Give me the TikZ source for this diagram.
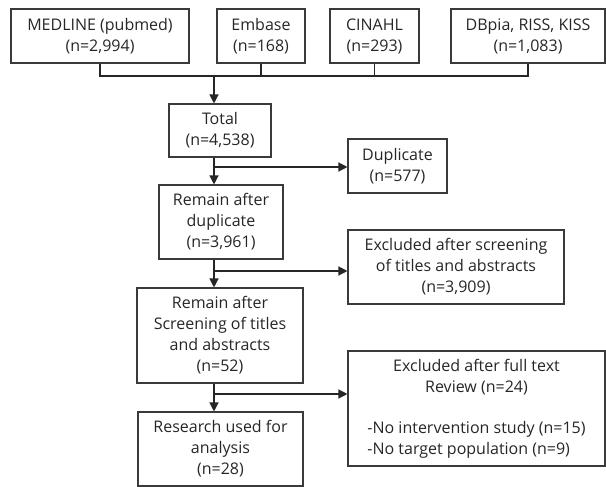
\documentclass[tikz,border=0pt]{standalone}
\usepackage{fontspec}
\setmainfont{Open Sans}
\usepackage{calc}
\usetikzlibrary{arrows.meta}
\definecolor{boxline}{HTML}{3A3A3A}
\definecolor{txt}{HTML}{262626}
\begin{document}
\begin{tikzpicture}[x=1pt,y=-1pt,
 box/.style={draw=boxline, line width=1.1pt, inner sep=0pt, align=center, text=txt, font=\fontsize{16}{21}\selectfont},
 conn/.style={draw=txt, line width=1.3pt},
 arr/.style={conn, -{Triangle[length=9pt,width=9pt]}}]
\useasboundingbox (0,0) rectangle (606,487);
\node[box, minimum width=178pt, minimum height=54pt] (med) at (100,36) {MEDLINE (pubmed)\\(n=2,994)};
\node[box, minimum width=88pt, minimum height=54pt] (emb) at (261,36) {Embase\\(n=168)};
\node[box, minimum width=89pt, minimum height=54pt] (cin) at (374.5,36) {CINAHL\\(n=293)};
\node[box, minimum width=154pt, minimum height=54pt] (dbp) at (528,36) {DBpia, RISS, KISS\\(n=1,083)};
\node[box, minimum width=102pt, minimum height=53pt] (tot) at (220,130.5) {Total\\(n=4,538)};
\node[box, minimum width=99pt, minimum height=54pt] (dup) at (397.5,166) {Duplicate\\(n=577)};
\node[box, minimum width=124pt, minimum height=74pt] (rem1) at (221,222) {Remain after\\duplicate\\(n=3,961)};
\node[box, minimum width=216pt, minimum height=74pt] (exc1) at (456,267) {Excluded after screening\\of titles and abstracts\\(n=3,909)};
\node[box, minimum width=166pt, minimum height=95pt] (rem2) at (220,335.5) {Remain after\\Screening of titles\\and abstracts\\(n=52)};
\node[box, minimum width=257pt, minimum height=115pt] (exc2) at (476.5,408.5) {Excluded after full text\\Review (n=24)\\[20pt]-No intervention study (n=15)\\\makebox[\widthof{-No intervention study (n=15)}][l]{-No target population (n=9)}};
\node[box, minimum width=165pt, minimum height=74pt] (res) at (220.5,449) {Research used for\\analysis\\(n=28)};
\coordinate (ml) at (0,76);
\coordinate (sp) at (214,76);
\draw[conn] (med.south) -- (med.south |- ml) -- (dbp.south |- ml) -- (dbp.south);
\draw[conn] (emb.south) -- (emb.south |- ml);
\draw[conn] (cin.south) -- (cin.south |- ml);
\draw[arr] (sp) -- (sp |- tot.north);
\draw[arr] (sp |- tot.south) -- (sp |- rem1.north);
\coordinate (b1) at (214,167);
\draw[arr] (b1) -- (b1 -| dup.west);
\draw[arr] (sp |- rem1.south) -- (sp |- rem2.north);
\coordinate (b2) at (214,271);
\draw[arr] (b2) -- (b2 -| exc1.west);
\draw[arr] (sp |- rem2.south) -- (sp |- res.north);
\coordinate (b3) at (214,394);
\draw[arr] (b3) -- (b3 -| exc2.west);
\end{tikzpicture}
\end{document}
